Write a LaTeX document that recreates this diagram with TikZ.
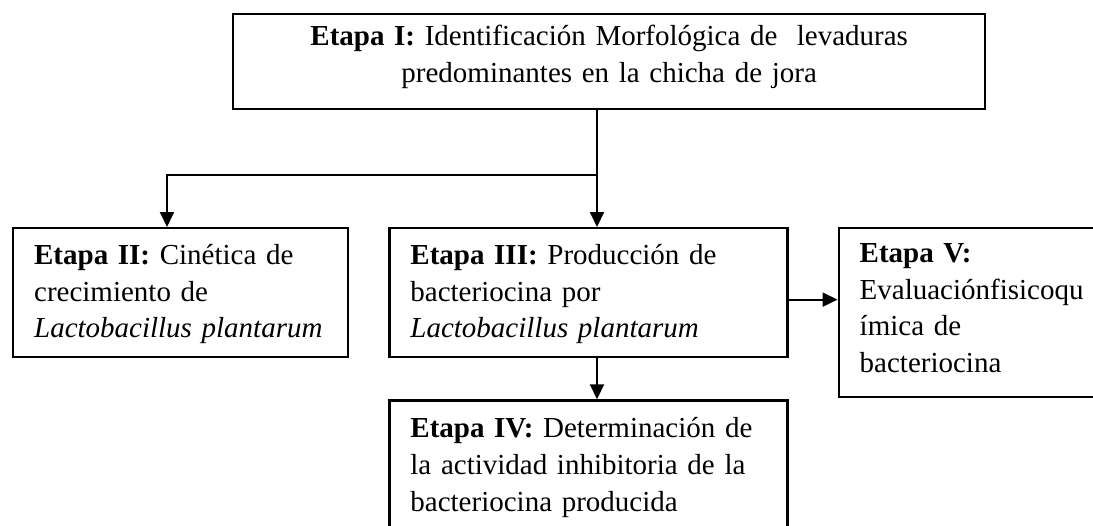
\documentclass[tikz,border=0pt]{standalone}
\usepackage{fontspec}
\setmainfont{Liberation Serif}
\usetikzlibrary{arrows.meta,positioning,calc}

\begin{document}
\fontsize{16.5}{21}\selectfont
\begin{tikzpicture}[
        node distance=0.8cm,
        stage/.style={rectangle,draw,line width=1.3pt,inner xsep=0.42cm,inner ysep=0pt,align=left,font=\fontsize{16.5}{21}\selectfont},
        arrow/.style={-{Triangle[length=0.3cm,width=0.28cm]},line width=1.1pt},
        link/.style={line width=1.1pt},
    ]
    \useasboundingbox (0,0) rectangle (21.86,-10.5);
    % === Etapa I ===
    \node[stage,align=center,anchor=north west,text width=14.2cm,text height=0.62cm,text depth=1.28cm] (etapa1) at (4.64,-0.26)
        {\textbf{Etapa I:} Identificación Morfológica de\ \ levaduras\\predominantes en la chicha de jora};

    % === Etapas II, III, V y IV ===
    \node[stage,anchor=north west,text width=5.86cm,text height=0.72cm,text depth=1.86cm] (etapa2) at (0.24,-4.54)
        {\textbf{Etapa II:} Cinética de\\crecimiento de\\\textit{Lactobacillus plantarum}};
    \node[stage,right=0.78cm of etapa2.north east,anchor=north west,text width=7.12cm,text height=0.72cm,text depth=1.86cm] (etapa3)
        {\textbf{Etapa III:} Producción de\\bacteriocina por\\\textit{Lactobacillus plantarum}};
    \node[stage,right=0.98cm of etapa3.north east,anchor=north west,text width=4.96cm,text height=0.68cm,text depth=2.70cm] (etapa5)
        {\textbf{Etapa V:}\\Evaluaciónfisicoqu\\ímica de\\bacteriocina};
    \node[stage,below=0.82cm of etapa3.south west,anchor=north west,text width=7.12cm,text height=0.74cm,text depth=3.0cm] (etapa4)
        {\textbf{Etapa IV:} Determinación de\\la actividad inhibitoria de la\\bacteriocina producida};

    % === Conectores ===
    \coordinate (split) at (11.94,-3.5);
    \coordinate (in2) at ($(etapa2.north west)+(3.1,0)$);
    \coordinate (out3) at ($(etapa3.east)+(0,-0.14)$);
    \draw[link] (etapa1.south -| split) -- (split);
    \draw[arrow] (split) -| (in2);
    \draw[arrow] (split) -- (split |- etapa3.north);
    \draw[arrow] (etapa3.south -| split) -- (split |- etapa4.north);
    \draw[arrow] (out3) -- (out3 -| etapa5.west);
\end{tikzpicture}
\end{document}
